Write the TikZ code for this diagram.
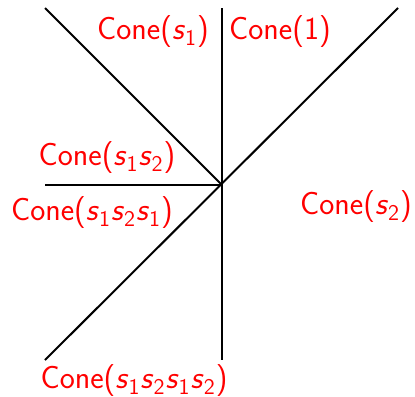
\documentclass[tikz,border=0pt]{standalone}
\newcommand{\sg}[1]{\textsl{s}\textsubscript{#1}}
\begin{document}
\begin{tikzpicture}[
  x=0.5pt, y=-0.5pt,
  cone/.style={text=red, font=\sffamily\fontsize{16}{19}\selectfont, inner sep=0pt},
  wall/.style={line width=1pt}
]
  \useasboundingbox (0,0) rectangle (415,396);
  \coordinate (o) at (222,185);
  \coordinate (top) at (222,8);
  \coordinate (bot) at (222,360);
  \coordinate (left) at (45,185);
  \coordinate (tl) at (45,8);
  \coordinate (tr) at (398,8);
  \coordinate (bl) at (45,360);

  \draw[wall] (top) -- (bot);
  \draw[wall] (left) -- (o);
  \draw[wall] (tl) -- (o);
  \draw[wall] (bl) -- (tr);

  \node[cone] (c1) at (153,32) {Cone(\sg{1})};
  \node[cone] (ce) at (280,32) {Cone(1)};
  \node[cone] (c12) at (107,158) {Cone(\sg{1}\sg{2})};
  \node[cone] (c121) at (92,213) {Cone(\sg{1}\sg{2}\sg{1})};
  \node[cone] (c2) at (356,207) {Cone(\sg{2})};
  \node[cone] (c1212) at (134,381) {Cone(\sg{1}\sg{2}\sg{1}\sg{2})};
\end{tikzpicture}
\end{document}
